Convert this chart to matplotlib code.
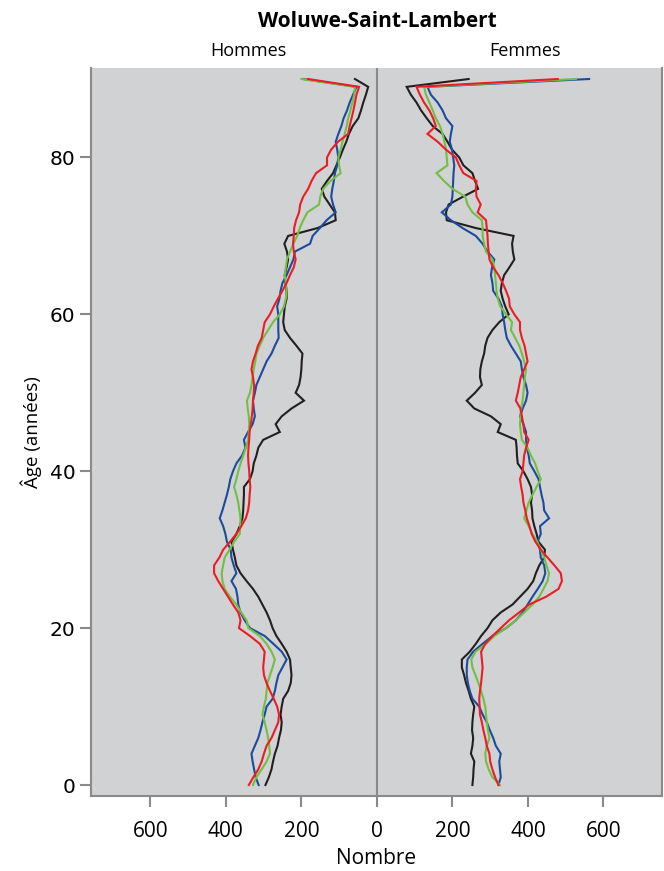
"""Population pyramid (lines) for Woluwe-Saint-Lambert"""

import numpy as np
import matplotlib
matplotlib.use('Agg')
import matplotlib.pyplot as plt

# Ages 0..90, one value per year
ages = np.arange(0, 91)

# Hommes
men_black = [295, 286, 279, 275, 270, 263, 259, 254, 252, 255,
             252, 248, 235, 228, 226, 228, 230, 239, 252, 266,
             276, 283, 292, 303, 314, 328, 345, 361, 372, 376,
             381, 385, 372, 363, 356, 354, 353, 352, 352, 336,
             329, 326, 319, 314, 301, 257, 268, 252, 226, 193,
             215, 206, 202, 200, 199, 197, 213, 230, 244, 248,
             246, 244, 239, 239, 242, 244, 239, 235, 238, 245,
             235, 157, 109, 111, 125, 139, 146, 132, 116, 107,
             98, 90, 81, 74, 64, 49, 42, 36, 29, 23, 58]
men_blue = [313, 321, 325, 329, 332, 323, 314, 308, 303, 297,
            292, 276, 270, 266, 261, 250, 239, 252, 274, 297,
            336, 350, 361, 367, 369, 373, 385, 372, 379, 385,
            387, 397, 401, 407, 416, 409, 403, 397, 392, 388,
            381, 372, 357, 348, 352, 341, 329, 323, 326, 328,
            323, 319, 310, 301, 292, 279, 270, 260, 261, 261,
            261, 264, 258, 255, 250, 239, 230, 221, 217, 177,
            170, 151, 133, 109, 116, 121, 118, 114, 111, 105,
            102, 105, 109, 102, 94, 88, 79, 72, 63, 54, 195]
men_green = [328, 319, 305, 292, 283, 285, 288, 292, 297, 303,
             299, 294, 292, 290, 283, 276, 270, 279, 292, 310,
             340, 345, 359, 372, 389, 403, 409, 411, 407, 403,
             390, 378, 363, 362, 361, 364, 367, 372, 378, 372,
             367, 361, 354, 347, 341, 339, 338, 339, 342, 344,
             336, 332, 329, 326, 322, 319, 310, 301, 288, 275,
             257, 246, 241, 239, 241, 244, 241, 238, 230, 221,
             211, 204, 195, 184, 153, 150, 142, 123, 96, 100,
             102, 96, 91, 85, 80, 76, 70, 65, 60, 58, 200]
men_red = [339, 327, 314, 305, 299, 292, 279, 270, 261, 259,
           264, 273, 283, 292, 299, 301, 299, 297, 310, 336,
           365, 361, 367, 381, 394, 407, 420, 431, 431, 417,
           407, 389, 372, 359, 347, 341, 338, 337, 335, 337,
           338, 340, 341, 340, 338, 337, 334, 331, 329, 328,
           326, 325, 328, 332, 328, 321, 315, 305, 301, 297,
           283, 273, 262, 250, 239, 230, 220, 215, 220, 222,
           220, 219, 214, 206, 203, 195, 182, 173, 161, 132,
           132, 121, 103, 76, 72, 67, 62, 58, 54, 47, 182]

# Femmes
women_black = [253, 255, 256, 258, 249, 253, 255, 252, 253, 255,
               258, 249, 243, 236, 231, 225, 225, 246, 262, 276,
               293, 306, 328, 359, 379, 399, 414, 421, 430, 443,
               445, 428, 423, 417, 412, 411, 408, 411, 408, 399,
               388, 373, 371, 370, 368, 320, 328, 302, 258, 238,
               260, 278, 273, 274, 278, 284, 287, 293, 306, 324,
               349, 340, 333, 328, 331, 337, 351, 364, 360, 358,
               362, 262, 185, 183, 190, 228, 268, 260, 253, 229,
               218, 199, 187, 174, 148, 132, 117, 105, 90, 79, 243]
women_blue = [322, 328, 326, 324, 328, 315, 308, 299, 291, 280,
              271, 253, 246, 241, 238, 238, 240, 255, 280, 306,
              342, 368, 386, 399, 412, 426, 439, 446, 443, 434,
              432, 425, 434, 432, 456, 443, 441, 436, 432, 428,
              417, 405, 402, 397, 395, 395, 388, 379, 386, 395,
              399, 395, 388, 384, 381, 368, 355, 344, 340, 337,
              333, 331, 322, 308, 306, 302, 305, 311, 293, 280,
              262, 227, 196, 172, 196, 200, 201, 202, 203, 205,
              202, 199, 193, 196, 200, 183, 174, 161, 143, 134, 562]
women_green = [326, 306, 296, 289, 287, 291, 298, 294, 291, 289,
               287, 282, 276, 269, 261, 253, 250, 261, 289, 311,
               342, 368, 390, 412, 430, 441, 452, 456, 449, 443,
               434, 425, 412, 402, 390, 396, 402, 412, 423, 434,
               426, 419, 408, 399, 384, 381, 379, 380, 382, 386,
               388, 390, 392, 395, 390, 384, 377, 366, 355, 358,
               342, 327, 320, 317, 315, 313, 311, 306, 289, 284,
               280, 280, 278, 253, 240, 234, 200, 178, 158, 187,
               185, 183, 179, 174, 167, 156, 148, 139, 130, 125, 527]
women_red = [322, 313, 306, 300, 298, 291, 287, 282, 278, 273,
             272, 271, 273, 276, 278, 280, 278, 276, 287, 306,
             328, 350, 377, 403, 448, 481, 490, 487, 470, 452,
             434, 420, 410, 404, 397, 393, 388, 386, 382, 379,
             386, 388, 390, 395, 402, 390, 388, 384, 380, 368,
             373, 377, 381, 390, 399, 395, 391, 384, 379, 379,
             364, 352, 350, 342, 333, 322, 308, 298, 296, 294,
             293, 291, 289, 267, 275, 264, 262, 264, 229, 218,
             209, 183, 161, 134, 156, 149, 139, 125, 114, 105, 479]

x_ticks = [-600, -400, -200, 0, 200, 400, 600]
y_ticks = [0, 20, 40, 60, 80]

colors = ['#231f20', '#1c4b9c', '#72bf44', '#ed1c24']
men_series = [men_black, men_blue, men_green, men_red]
women_series = [women_black, women_blue, women_green, women_red]

plt.rcParams['font.family'] = ['Open Sans', 'DejaVu Sans']

fig = plt.figure(figsize=(6.64, 8.71), dpi=100)
ax = fig.add_axes([0.137, 0.0861, 0.860, 0.8358])
ax.set_facecolor('#d1d2d4')

for col, m, w in zip(colors, men_series, women_series):
    ax.plot(-np.array(m), ages, color=col, lw=1.5, solid_joinstyle='miter')
    ax.plot(np.array(w), ages, color=col, lw=1.5, solid_joinstyle='miter')

ax.axvline(0, color='#8a8a8a', lw=1.5, zorder=0.5)

ax.set_xlim(-757, 755)
ax.set_ylim(-1.4, 91.4)

ax.set_xticks(x_ticks)
ax.set_xticklabels([str(abs(v)) for v in x_ticks], fontsize=15)
ax.set_yticks(y_ticks)
ax.set_yticklabels([str(v) for v in y_ticks], fontsize=14.5, family='DejaVu Sans')
ax.tick_params(axis='both', color='#8a8a8a', width=1.5, length=8, pad=3)
ax.tick_params(axis='x', pad=10)

for side in ['left', 'right', 'bottom']:
    ax.spines[side].set_color('#8a8a8a')
    ax.spines[side].set_linewidth(1.5)
ax.spines['top'].set_visible(False)

ax.set_xlabel('Nombre', fontsize=15, labelpad=4)
ax.set_ylabel('Âge (années)', fontsize=13.5, labelpad=6)

fig.text(0.568, 0.975, 'Woluwe-Saint-Lambert', ha='center', va='center',
         fontsize=15, fontweight='bold')
ax.text(0.275, 1.023, 'Hommes', transform=ax.transAxes, ha='center',
        va='center', fontsize=13)
ax.text(0.760, 1.023, 'Femmes', transform=ax.transAxes, ha='center',
        va='center', fontsize=13)

fig.savefig('out.png', dpi=100)
